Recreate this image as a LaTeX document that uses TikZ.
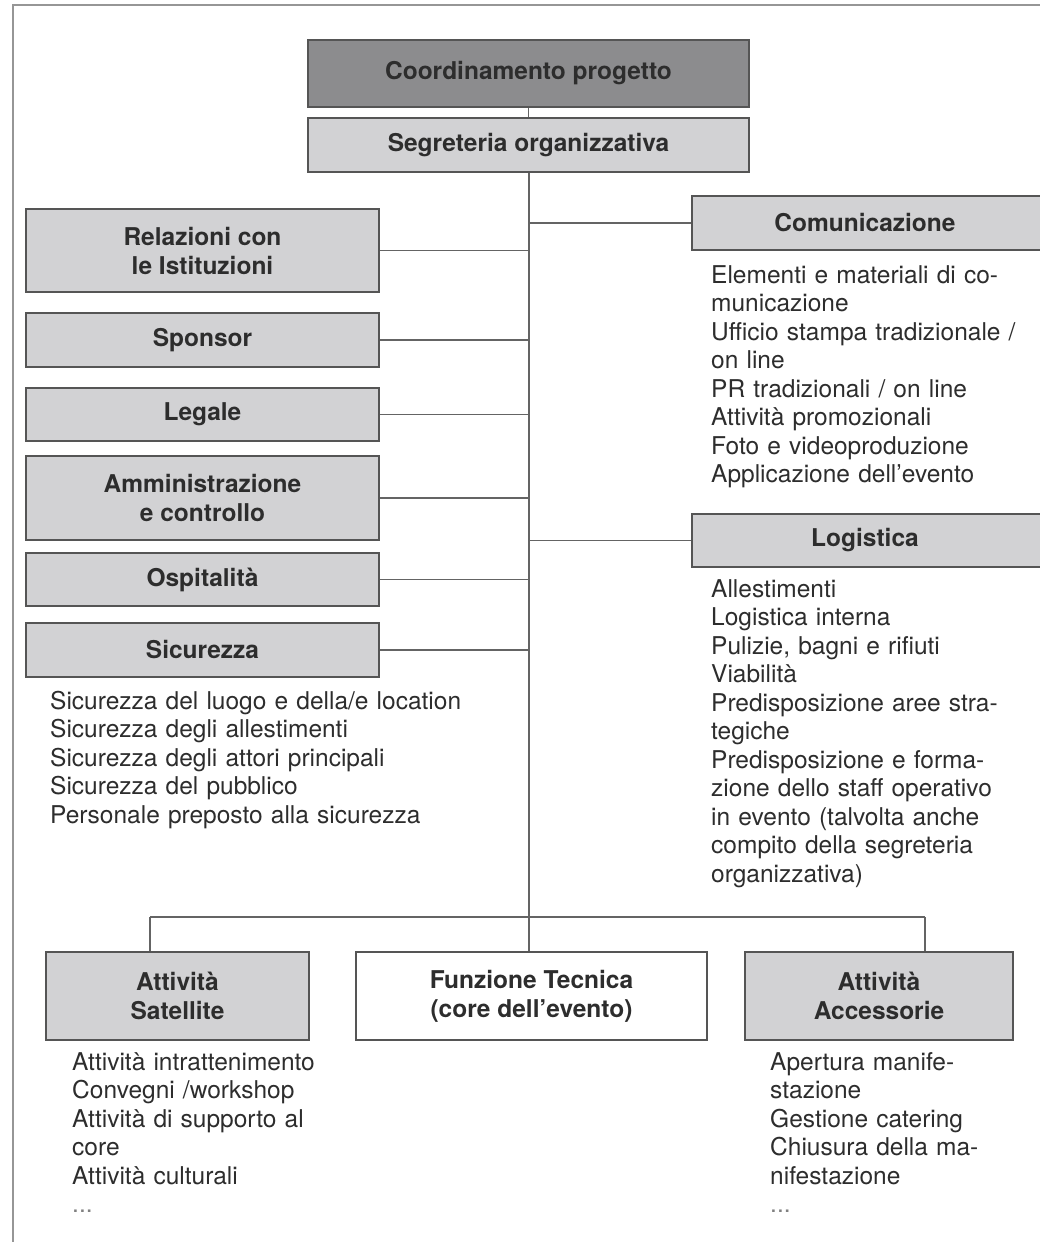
\documentclass[tikz,border=0pt]{standalone}
\usepackage{fontspec}
\setmainfont{TeX Gyre Heros}
\definecolor{boxfill}{RGB}{210,210,212}
\definecolor{darkfill}{RGB}{140,140,142}
\definecolor{edge}{RGB}{85,85,85}
\definecolor{ink}{RGB}{45,45,45}
\definecolor{wire}{RGB}{100,100,100}
\definecolor{frame}{RGB}{150,150,150}
\tikzset{
  unitbox/.style={draw=edge, line width=2.2pt, fill=boxfill, text=ink,
    font=\fontsize{24.5}{29}\selectfont\bfseries, align=center, inner sep=0pt},
  topbox/.style={unitbox, fill=darkfill},
  whitebox/.style={unitbox, fill=white},
  itemlist/.style={anchor=base west, inner sep=0pt, text=ink, align=left,
    font=\fontsize{24.5}{28.5}\selectfont},
  wireline/.style={draw=wire, line width=1.8pt},
  frameline/.style={draw=frame, line width=1.5pt}
}
\begin{document}
\begin{tikzpicture}[x=1pt,y=-1pt]
\useasboundingbox (0,0) rectangle (1040,1242);
\fill[white] (0,0) rectangle (1040,1242);
% frame
\coordinate (fa) at (13,1242);
\coordinate (fb) at (13,5);
\coordinate (fc) at (1040,5);
\draw[frameline] (fa) -- (fb) -- (fc);

% top
\node[topbox, minimum width=441pt, minimum height=67pt] (coord) at (528.5,73.5) {Coordinamento progetto};
\node[unitbox, minimum width=441pt, minimum height=54pt] (segr) at (528.5,145) {Segreteria organizzativa};

% left boxes
\node[unitbox, minimum width=353pt, minimum height=83pt] (rel) at (202.5,250.5) {Relazioni con\\le Istituzioni};
\node[unitbox, minimum width=353pt, minimum height=54pt] (spon) at (202.5,340) {Sponsor};
\node[unitbox, minimum width=353pt, minimum height=53pt] (leg) at (202.5,414.5) {Legale};
\node[unitbox, minimum width=353pt, minimum height=84pt] (amm) at (202.5,498) {Amministrazione\\e controllo};
\node[unitbox, minimum width=353pt, minimum height=53pt] (osp) at (202.5,579.5) {Ospitalità};
\node[unitbox, minimum width=353pt, minimum height=54pt] (sic) at (202.5,650) {Sicurezza};

% right boxes
\node[unitbox, minimum width=356pt, minimum height=54pt, text width=340pt] (com) at (870,223) {\hspace*{-10pt}Comunicazione};
\node[unitbox, minimum width=356pt, minimum height=53pt, text width=340pt] (log) at (870,540.5) {\hspace*{-10pt}Logistica};

% bottom boxes
\node[unitbox, minimum width=263pt, minimum height=88pt] (sat) at (177.5,996) {Attività\\Satellite};
\node[whitebox, minimum width=351pt, minimum height=88pt] (tec) at (531.5,996) {Funzione Tecnica\\(core dell’evento)};
\node[unitbox, minimum width=268pt, minimum height=88pt] (acc) at (879,996) {Attività\\Accessorie};

% trunk
\coordinate (tbot) at (529,917);
\coordinate (bl) at (150,917);
\coordinate (br) at (925,917);
\draw[wireline] (coord.south) -- (segr.north);
\draw[wireline] (segr.south -| tbot) -- (tbot);
\draw[wireline] (bl) -- (br);
\draw[wireline] (bl) -- (bl |- sat.north);
\draw[wireline] (br) -- (br |- acc.north);
\draw[wireline] (tbot) -- (tbot |- tec.north);
\foreach \n in {rel,spon,leg,amm,osp,sic}{
  \draw[wireline] (\n.east) -- (\n.east -| tbot);
}
\draw[wireline] (com.west -| tbot) -- (com.west);
\draw[wireline] (log.west -| tbot) -- (log.west);

% lists
\node[itemlist, text width=440pt] (sicl) at (50,709) {Sicurezza del luogo e della/e location\\Sicurezza degli allestimenti\\Sicurezza degli attori principali\\Sicurezza del pubblico\\Personale preposto alla sicurezza};
\node[itemlist, text width=320pt] (coml) at (711,283) {Elementi e materiali di co-\\municazione\\Ufficio stampa tradizionale /\\on line\\PR tradizionali / on line\\Attività promozionali\\Foto e videoproduzione\\Applicazione dell’evento};
\node[itemlist, text width=320pt] (logl) at (711,597) {Allestimenti\\Logistica interna\\Pulizie, bagni e rifiuti\\Viabilità\\Predisposizione aree stra-\\tegiche\\Predisposizione e forma-\\zione dello staff operativo\\in evento (talvolta anche\\compito della segreteria\\organizzativa)};
\node[itemlist, text width=280pt] (satl) at (72,1070) {Attività intrattenimento\\Convegni /workshop\\Attività di supporto al\\core\\Attività culturali\\\textcolor{gray}{...}};
\node[itemlist, text width=260pt] (accl) at (770,1070) {Apertura manife-\\stazione\\Gestione catering\\Chiusura della ma-\\nifestazione\\\textcolor{gray}{...}};
\end{tikzpicture}
\end{document}
